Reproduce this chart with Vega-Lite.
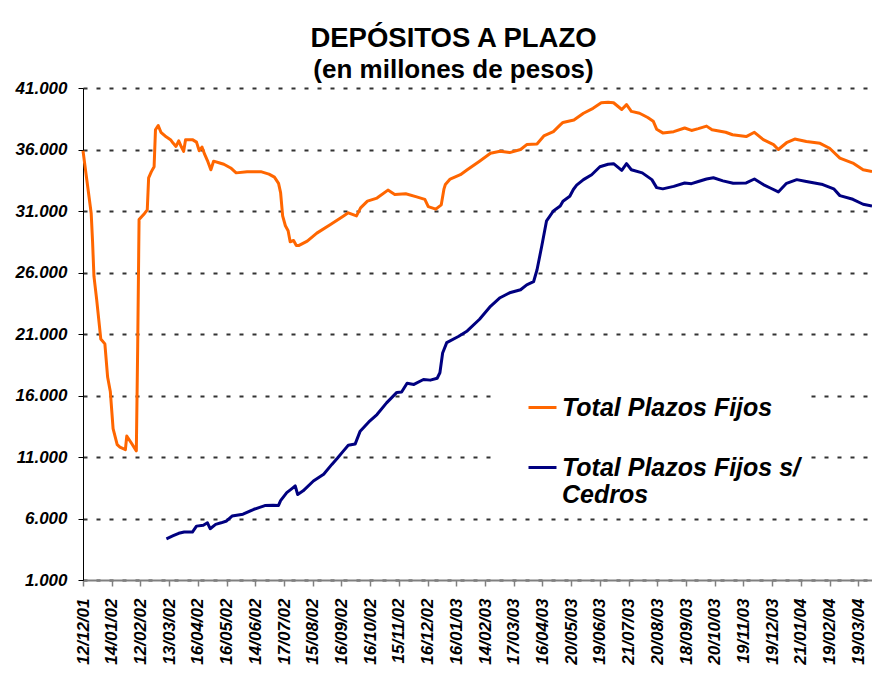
{
  "$schema": "https://vega.github.io/schema/vega-lite/v6.json",
  "autosize": {"type": "none"},
  "width": 789,
  "height": 492,
  "padding": {"left": 83, "top": 88, "right": 0, "bottom": 98},
  "background": "white",
  "title": {
    "text": "DEPÓSITOS A PLAZO",
    "subtitle": "(en millones de pesos)",
    "anchor": "middle",
    "dx": -24,
    "offset": -4,
    "font": "Liberation Sans",
    "subtitleFont": "Liberation Sans",
    "fontSize": 27.5,
    "subtitleFontSize": 26,
    "fontWeight": "bold",
    "subtitleFontWeight": "bold",
    "color": "black",
    "subtitleColor": "black",
    "subtitlePadding": 5
  },
  "config": {
    "view": {"stroke": null},
    "font": "Liberation Sans",
    "axis": {"labelOverlap": false}
  },
  "datasets": {
    "tot": [
      {"i": 0, "v": 35900}, {"i": 2, "v": 34200}, {"i": 4, "v": 32500}, {"i": 6, "v": 30800},
      {"i": 7, "v": 28500}, {"i": 8, "v": 25700}, {"i": 10, "v": 23800}, {"i": 13, "v": 20600},
      {"i": 16, "v": 20200}, {"i": 18, "v": 17500}, {"i": 20, "v": 16300}, {"i": 22, "v": 13300},
      {"i": 25, "v": 12000}, {"i": 27, "v": 11800}, {"i": 31, "v": 11600}, {"i": 32, "v": 12700},
      {"i": 35, "v": 12200}, {"i": 39, "v": 11500}, {"i": 40, "v": 20000}, {"i": 41, "v": 30300},
      {"i": 45, "v": 30800}, {"i": 47, "v": 31100}, {"i": 48, "v": 33700}, {"i": 50, "v": 34200},
      {"i": 52, "v": 34600}, {"i": 53, "v": 37600}, {"i": 55, "v": 37950}, {"i": 57, "v": 37400},
      {"i": 60, "v": 37100}, {"i": 64, "v": 36800}, {"i": 66, "v": 36500}, {"i": 68, "v": 36250},
      {"i": 70, "v": 36700}, {"i": 72, "v": 36200}, {"i": 73.6, "v": 35850}, {"i": 75, "v": 36800},
      {"i": 80, "v": 36800}, {"i": 83, "v": 36600}, {"i": 85, "v": 35900}, {"i": 87, "v": 36200},
      {"i": 89, "v": 35600}, {"i": 91, "v": 35100}, {"i": 93.5, "v": 34350}, {"i": 95.5, "v": 35050},
      {"i": 100, "v": 34900}, {"i": 103, "v": 34800}, {"i": 108, "v": 34500}, {"i": 112, "v": 34100},
      {"i": 120, "v": 34200}, {"i": 130, "v": 34200}, {"i": 136, "v": 34000}, {"i": 140, "v": 33750},
      {"i": 143, "v": 33250}, {"i": 144.5, "v": 32500}, {"i": 146, "v": 30600}, {"i": 148, "v": 29800},
      {"i": 150, "v": 29400}, {"i": 151.5, "v": 28500}, {"i": 154, "v": 28600}, {"i": 156, "v": 28200},
      {"i": 158, "v": 28200}, {"i": 164, "v": 28550}, {"i": 171, "v": 29200}, {"i": 181, "v": 29900},
      {"i": 190, "v": 30550}, {"i": 194, "v": 30850}, {"i": 200, "v": 30600}, {"i": 203, "v": 31250},
      {"i": 208, "v": 31800}, {"i": 215, "v": 32050}, {"i": 223, "v": 32700}, {"i": 228, "v": 32350},
      {"i": 236, "v": 32400}, {"i": 244, "v": 32150}, {"i": 250, "v": 31950}, {"i": 252.5, "v": 31350},
      {"i": 258, "v": 31150}, {"i": 262, "v": 31500}, {"i": 264, "v": 32800}, {"i": 265, "v": 33150},
      {"i": 268.5, "v": 33600}, {"i": 276, "v": 33950}, {"i": 281, "v": 34350}, {"i": 290, "v": 35050},
      {"i": 298, "v": 35700}, {"i": 305, "v": 35850}, {"i": 312, "v": 35750}, {"i": 320, "v": 36000},
      {"i": 324.5, "v": 36400}, {"i": 332, "v": 36450}, {"i": 337, "v": 37100}, {"i": 344, "v": 37450},
      {"i": 349, "v": 38000}, {"i": 351, "v": 38200}, {"i": 359, "v": 38400}, {"i": 366, "v": 38950},
      {"i": 373, "v": 39350}, {"i": 379, "v": 39800}, {"i": 384, "v": 39850}, {"i": 388, "v": 39800},
      {"i": 394, "v": 39250}, {"i": 397.5, "v": 39650}, {"i": 401, "v": 39100}, {"i": 407, "v": 38950},
      {"i": 413, "v": 38600}, {"i": 417, "v": 38300}, {"i": 419.5, "v": 37650}, {"i": 424, "v": 37350},
      {"i": 432, "v": 37450}, {"i": 440, "v": 37750}, {"i": 445, "v": 37550}, {"i": 450, "v": 37700},
      {"i": 456, "v": 37900}, {"i": 460, "v": 37600}, {"i": 463, "v": 37550}, {"i": 470, "v": 37400},
      {"i": 475, "v": 37200}, {"i": 485, "v": 37050}, {"i": 491, "v": 37400}, {"i": 497.5, "v": 36800},
      {"i": 505, "v": 36400}, {"i": 508.5, "v": 36000}, {"i": 514.5, "v": 36550}, {"i": 520.5, "v": 36850},
      {"i": 529, "v": 36650}, {"i": 539, "v": 36500}, {"i": 546, "v": 36100}, {"i": 553.5, "v": 35300},
      {"i": 563, "v": 34900}, {"i": 570.5, "v": 34350}, {"i": 577, "v": 34200}
    ],
    "sced": [
      {"i": 61, "v": 4350}, {"i": 66, "v": 4600}, {"i": 70, "v": 4800}, {"i": 74, "v": 4900},
      {"i": 80, "v": 4900}, {"i": 83, "v": 5380}, {"i": 88, "v": 5450}, {"i": 91, "v": 5650},
      {"i": 93, "v": 5170}, {"i": 97, "v": 5520}, {"i": 101, "v": 5650}, {"i": 105, "v": 5800},
      {"i": 109, "v": 6200}, {"i": 117, "v": 6350}, {"i": 125, "v": 6750}, {"i": 133, "v": 7050},
      {"i": 139, "v": 7080}, {"i": 143, "v": 7060}, {"i": 144.5, "v": 7450}, {"i": 149, "v": 8100},
      {"i": 153, "v": 8450}, {"i": 155.2, "v": 8650}, {"i": 157, "v": 7950}, {"i": 161, "v": 8250},
      {"i": 168.5, "v": 9050}, {"i": 176, "v": 9600}, {"i": 182, "v": 10400}, {"i": 186, "v": 10900},
      {"i": 190.5, "v": 11500}, {"i": 194, "v": 11950}, {"i": 199, "v": 12050}, {"i": 202.7, "v": 13100},
      {"i": 209, "v": 13850}, {"i": 215, "v": 14450}, {"i": 222, "v": 15400}, {"i": 229.5, "v": 16250},
      {"i": 233, "v": 16280}, {"i": 237, "v": 17000}, {"i": 242, "v": 16900}, {"i": 249, "v": 17300},
      {"i": 254, "v": 17250}, {"i": 259, "v": 17400}, {"i": 261, "v": 17850}, {"i": 263, "v": 19450},
      {"i": 266, "v": 20300}, {"i": 274.5, "v": 20800}, {"i": 281, "v": 21250}, {"i": 290, "v": 22200},
      {"i": 298, "v": 23250}, {"i": 305, "v": 23950}, {"i": 312, "v": 24350}, {"i": 320, "v": 24600},
      {"i": 324.5, "v": 25000}, {"i": 329.5, "v": 25250}, {"i": 332, "v": 26200}, {"i": 335.5, "v": 28150},
      {"i": 339, "v": 30200}, {"i": 344, "v": 31000}, {"i": 349, "v": 31400}, {"i": 351, "v": 31800},
      {"i": 356, "v": 32200}, {"i": 358.6, "v": 32750}, {"i": 361, "v": 33100}, {"i": 366, "v": 33550},
      {"i": 372, "v": 33950}, {"i": 378, "v": 34600}, {"i": 384, "v": 34800}, {"i": 388, "v": 34850},
      {"i": 394, "v": 34300}, {"i": 397.5, "v": 34850}, {"i": 401, "v": 34350}, {"i": 409, "v": 34100},
      {"i": 416, "v": 33550}, {"i": 419.5, "v": 32900}, {"i": 424, "v": 32800}, {"i": 432, "v": 33000},
      {"i": 440, "v": 33280}, {"i": 445, "v": 33220}, {"i": 450, "v": 33400}, {"i": 456, "v": 33600},
      {"i": 461, "v": 33700}, {"i": 468, "v": 33450}, {"i": 475.5, "v": 33250}, {"i": 485, "v": 33280},
      {"i": 491, "v": 33600}, {"i": 497.5, "v": 33150}, {"i": 503, "v": 32850}, {"i": 508.5, "v": 32550},
      {"i": 514.5, "v": 33250}, {"i": 522, "v": 33550}, {"i": 529, "v": 33400}, {"i": 541, "v": 33150},
      {"i": 549, "v": 32800}, {"i": 553.5, "v": 32250}, {"i": 563, "v": 31950}, {"i": 570.5, "v": 31550},
      {"i": 577, "v": 31400}
    ]
  },
  "encoding": {
    "x": {
      "field": "i", "type": "quantitative",
      "scale": {"domain": [0, 577], "nice": false, "zero": false},
      "axis": {
        "title": null,
        "values": [0, 21, 42, 63, 84, 105, 126, 147, 168, 189, 210, 231, 252, 273, 294, 315, 336, 357, 378, 399, 420, 441, 462, 483, 504, 525, 546, 567],
        "labelExpr": "['12/12/01','14/01/02','12/02/02','13/03/02','16/04/02','16/05/02','14/06/02','17/07/02','15/08/02','16/09/02','16/10/02','15/11/02','16/12/02','16/01/03','14/02/03','17/03/03','16/04/03','20/05/03','19/06/03','21/07/03','20/08/03','18/09/03','20/10/03','19/11/03','19/12/03','21/01/04','19/02/04','19/03/04'][round(datum.value/21)]",
        "labelAngle": -90,
        "labelFont": "Liberation Sans",
        "labelFontSize": 17,
        "labelFontWeight": "bold",
        "labelFontStyle": "italic",
        "labelColor": "black",
        "labelPadding": 12,
        "labelOverlap": false,
        "labelFlush": false,
        "labelBound": false,
        "grid": false,
        "domainColor": "#808080",
        "domainWidth": 2,
        "tickColor": "#808080",
        "tickWidth": 1.5,
        "tickSize": 6
      }
    },
    "y": {
      "field": "v", "type": "quantitative",
      "scale": {"domain": [1000, 41000], "nice": false, "zero": false},
      "axis": {
        "title": null,
        "values": [1000, 6000, 11000, 16000, 21000, 26000, 31000, 36000, 41000],
        "labelExpr": "replace(format(datum.value, ',d'), ',', '.')",
        "labelFont": "Liberation Sans",
        "labelFontSize": 17,
        "labelFontWeight": "bold",
        "labelFontStyle": "italic",
        "labelColor": "black",
        "labelPadding": 11,
        "labelOverlap": false,
        "domainColor": "black",
        "domainWidth": 1,
        "tickColor": "black",
        "tickSize": 5,
        "grid": true,
        "gridColor": "#333333",
        "gridWidth": 2,
        "gridDash": [4, 9]
      }
    },
    "color": {
      "field": "serie", "type": "nominal",
      "scale": {"domain": ["Total Plazos Fijos", "Total Plazos Fijos s/ Cedros"], "range": ["#FF6600", "#000080"]},
      "legend": {
        "title": null,
        "orient": "none",
        "legendX": 412,
        "legendY": 294,
        "fillColor": "white",
        "padding": 10,
        "symbolOffset": 22,
        "symbolType": "stroke",
        "symbolSize": 784,
        "symbolStrokeWidth": 3,
        "labelFont": "Liberation Sans",
        "labelFontSize": 25,
        "labelFontWeight": "bold",
        "labelFontStyle": "italic",
        "labelColor": "black",
        "labelOffset": 4,
        "labelLimit": 400,
        "rowPadding": 31,
        "labelExpr": "datum.label == 'Total Plazos Fijos s/ Cedros' ? ['Total Plazos Fijos s/', 'Cedros'] : datum.label"
      }
    }
  },
  "layer": [
    {
      "data": {"name": "tot"},
      "transform": [{"calculate": "'Total Plazos Fijos'", "as": "serie"}],
      "mark": {"type": "line", "strokeWidth": 3, "strokeJoin": "round"}
    },
    {
      "data": {"name": "sced"},
      "transform": [{"calculate": "'Total Plazos Fijos s/ Cedros'", "as": "serie"}],
      "mark": {"type": "line", "strokeWidth": 3, "strokeJoin": "round"}
    }
  ]
}
